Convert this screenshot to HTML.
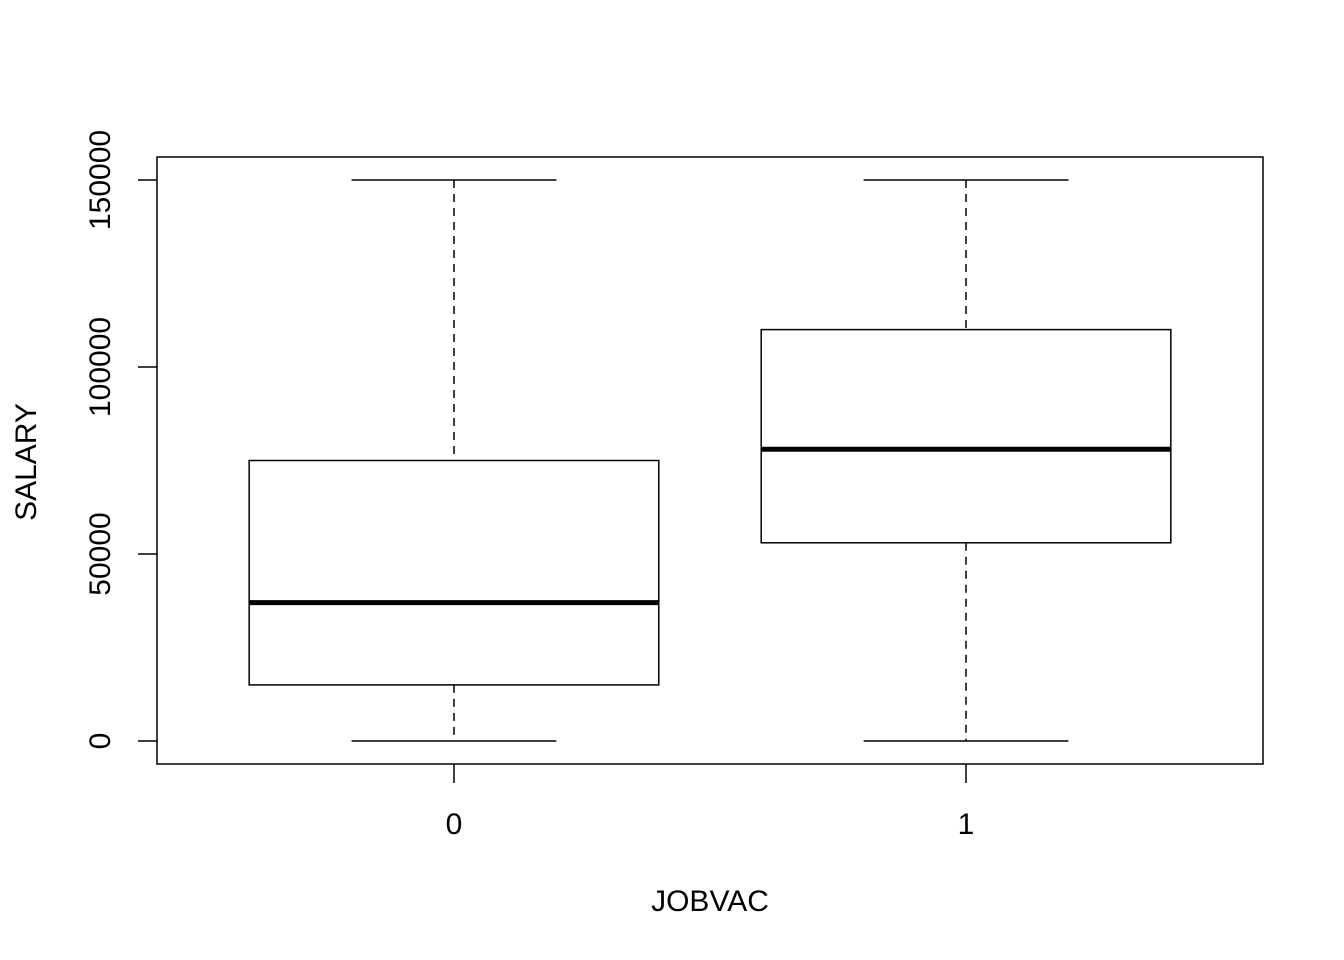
<!DOCTYPE html>
<html><head><meta charset="utf-8"><style>
html,body{margin:0;padding:0;background:#fff;}
svg{display:block;font-family:"Liberation Sans",Arial,sans-serif;}
</style></head><body>
<svg id="chart" width="1344" height="960" viewBox="0 0 1344 960"></svg>
<script>
const categories = ["0","1"];
const mins = [0, 0];
const q1s = [15000, 53000];
const medians = [37000, 78000];
const q3s = [75000, 110000];
const maxs = [150000, 150000];
const yTicks = [0, 50000, 100000, 150000];

const svg = document.getElementById('chart');
const NS = 'http://www.w3.org/2000/svg';
const L = 157, R = 1263, T = 157, B = 764;
function yS(v){ return 741 - (v - 0) * (741 - 180) / 150000; }
const unit = (R - L) / 2.16;
function xS(i){ return L + (i + 1 - 0.5 + 0.08) * unit; }
function mk(tag, attrs, parent){
  const e = document.createElementNS(NS, tag);
  for (const k in attrs) e.setAttribute(k, attrs[k]);
  (parent || svg).appendChild(e);
  return e;
}
const frame = mk('rect', {x:L, y:T, width:R-L, height:B-T, fill:'none', stroke:'#000', 'stroke-width':1.5});



categories.forEach((c, i) => {
  const g = mk('g', {});
  
  
  const cx = xS(i), hw = 0.4 * unit, cw = 0.2 * unit;
  const st = {stroke:'#000', 'stroke-width':1.5, fill:'none'};
  mk('line', Object.assign({x1:cx, x2:cx, y1:yS(maxs[i]), y2:yS(q3s[i]), 'stroke-dasharray':'8,6'}, st), g);
  mk('line', Object.assign({x1:cx, x2:cx, y1:yS(q1s[i]), y2:yS(mins[i]), 'stroke-dasharray':'8,6'}, st), g);
  mk('line', Object.assign({x1:cx-cw, x2:cx+cw, y1:yS(maxs[i]), y2:yS(maxs[i])}, st), g);
  mk('line', Object.assign({x1:cx-cw, x2:cx+cw, y1:yS(mins[i]), y2:yS(mins[i])}, st), g);
  mk('rect', Object.assign({x:cx-hw, y:yS(q3s[i]), width:2*hw, height:yS(q1s[i])-yS(q3s[i])}, st, {fill:'#fff'}), g);
  mk('line', {x1:cx-hw, x2:cx+hw, y1:yS(medians[i]), y2:yS(medians[i]), stroke:'#000', 'stroke-width':5}, g);
  const t = mk('line', {x1:cx, x2:cx, y1:B, y2:B+19, stroke:'#000', 'stroke-width':1.5});
  
  
  const tl = mk('text', {x:cx, y:834, 'text-anchor':'middle', 'font-size':30});
  tl.textContent = c;
  
  
});

yTicks.forEach(v => {
  const y = yS(v);
  const t = mk('line', {x1:L, x2:L-19, y1:y, y2:y, stroke:'#000', 'stroke-width':1.5});
  
  
  const tl = mk('text', {x:0, y:0, 'text-anchor':'middle', 'font-size':30, transform:'translate(110,'+y+') rotate(-90)'});
  tl.textContent = v;
  
  
});
const xt = mk('text', {x:710, y:911, 'text-anchor':'middle', 'font-size':30});
xt.textContent = 'JOBVAC';


const yt = mk('text', {x:0, y:0, 'text-anchor':'middle', 'font-size':30, transform:'translate(36,462) rotate(-90)'});
yt.textContent = 'SALARY';


</script>
</body></html>
